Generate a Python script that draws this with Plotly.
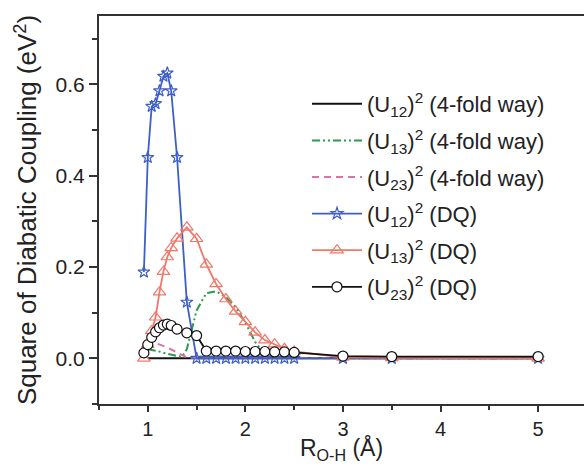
import plotly.graph_objects as go

# ---- data ----
r_4fold_12 = [1.0, 1.5, 2.0, 3.0, 4.0, 5.0]
u12_4fold = [0.0, 0.0, 0.0, 0.0, 0.0, 0.0]

r_4fold_13 = [1.0, 1.1, 1.2, 1.3, 1.35, 1.4, 1.45, 1.5, 1.6, 1.7, 1.8, 1.9, 2.0, 2.1, 2.2, 2.3, 2.5, 3.0, 3.5, 5.0]
u13_4fold = [0.02, 0.016, 0.01, 0.005, 0.003, 0.02, 0.06, 0.105, 0.143, 0.147, 0.134, 0.112, 0.078, 0.036, 0.008, 0.002, 0.001, 0.0, 0.0, 0.0]

r_4fold_23 = [1.0, 1.05, 1.1, 1.2, 1.3, 1.4, 1.5, 2.0, 3.0, 5.0]
u23_4fold = [0.02, 0.03, 0.032, 0.024, 0.013, 0.002, 0.0, 0.0, 0.0, 0.0]

r_dq = [0.96, 1.0, 1.04, 1.08, 1.12, 1.16, 1.2, 1.24, 1.3, 1.4, 1.5, 1.6, 1.7, 1.8,
        1.9, 2.0, 2.1, 2.2, 2.3, 2.4, 2.5, 3.0, 3.5, 5.0]
u12_dq = [0.189, 0.44, 0.552, 0.558, 0.586, 0.618, 0.625, 0.586, 0.44, 0.123, 0.0, 0.0,
          0.0, 0.0, 0.0, 0.0, 0.0, 0.0, 0.0, 0.0, 0.0, 0.0, 0.0, 0.0]
u13_dq = [0.0, 0.03, 0.06, 0.09, 0.145, 0.19, 0.222, 0.242, 0.263, 0.287, 0.262, 0.206,
          0.163, 0.13, 0.103, 0.08, 0.057, 0.04, 0.031, 0.021, 0.015, 0.002, 0.001, 0.0]
u23_dq = [0.012, 0.03, 0.046, 0.058, 0.067, 0.073, 0.075, 0.072, 0.064, 0.056, 0.05, 0.016,
          0.016, 0.016, 0.016, 0.015, 0.015, 0.015, 0.014, 0.014, 0.013, 0.005, 0.004, 0.004]

names = [
    "(U<sub>12</sub>)<sup>2</sup> (4-fold way)",
    "(U<sub>13</sub>)<sup>2</sup> (4-fold way)",
    "(U<sub>23</sub>)<sup>2</sup> (4-fold way)",
    "(U<sub>12</sub>)<sup>2</sup> (DQ)",
    "(U<sub>13</sub>)<sup>2</sup> (DQ)",
    "(U<sub>23</sub>)<sup>2</sup> (DQ)",
]

FONT = "Liberation Sans, Arial, sans-serif"
TXT = "#222222"

fig = go.Figure()
fig.add_trace(go.Scatter(x=r_4fold_12, y=u12_4fold, mode="lines", name=names[0], legendgroup="a",
                         line=dict(color="#111111", width=2)))
fig.add_trace(go.Scatter(x=r_4fold_13, y=u13_4fold, mode="lines", name=names[1], legendgroup="b",
                         line=dict(color="#2f9a4c", width=2, dash="8px,3px,2px,3px,2px,3px")))
fig.add_trace(go.Scatter(x=r_4fold_23, y=u23_4fold, mode="lines", name=names[2], legendgroup="c",
                         line=dict(color="#d776a6", width=2, dash="7px,5px")))
fig.add_trace(go.Scatter(x=r_dq, y=u12_dq, mode="lines+markers", name=names[3], legendgroup="d",
                         line=dict(color="#3e5fc6", width=1.8),
                         marker=dict(symbol="star-open", size=9, color="#3e5fc6", line=dict(width=1.2))))
fig.add_trace(go.Scatter(x=r_dq, y=u13_dq, mode="lines+markers", name=names[4], legendgroup="e",
                         line=dict(color="#f0786a", width=1.8),
                         marker=dict(symbol="triangle-up-open", size=11, color="#f0786a", line=dict(width=1.2))))
fig.add_trace(go.Scatter(x=r_dq, y=u23_dq, mode="lines+markers", name=names[5], legendgroup="f",
                         line=dict(color="#111111", width=1.8),
                         marker=dict(symbol="circle", size=10, color="white", line=dict(color="#111111", width=1.2))))

fig.update_layout(
    width=584, height=464,
    margin=dict(l=99, r=0, t=16, b=60, autoexpand=False),
    paper_bgcolor="white", plot_bgcolor="white",
    font=dict(family=FONT, size=20, color=TXT),
    showlegend=True,
    legend=dict(x=(307 - 99) / 485, y=(404 - 83) / 388, xanchor="left", yanchor="top",
                bgcolor="rgba(0,0,0,0)", borderwidth=0, font=dict(size=22, color=TXT),
                tracegroupgap=5, itemwidth=50),
    xaxis=dict(range=[0.5, 5.47], tick0=0, dtick=1, ticks="outside", ticklen=6, tickwidth=1.5,
               tickcolor="#333", showline=True, linecolor="#333", linewidth=2, mirror=True,
               showgrid=False, zeroline=False, tickfont=dict(size=20), automargin=False,
               minor=dict(dtick=0.5, ticks="outside", ticklen=4, tickwidth=1.5, tickcolor="#333"),
               title=dict(text="R<sub>O-H</sub> (Å)", font=dict(size=23), standoff=11)),
    yaxis=dict(range=[-0.1, 0.75], tick0=0, dtick=0.2, tickformat=".1f", ticks="outside", ticklen=8,
               tickwidth=1.5, tickcolor="#333", showline=True, linecolor="#333", linewidth=2,
               showgrid=False, zeroline=False, tickfont=dict(size=21), automargin=False,
               minor=dict(dtick=0.1, ticks="outside", ticklen=5, tickwidth=1.5, tickcolor="#333"),
               title=dict(text="Square of Diabatic Coupling (eV<sup>2</sup>)", font=dict(size=26), standoff=11)),
)

fig.write_html("out.html", config={"displayModeBar": False},
               post_script="document.body.style.margin='0px';document.body.style.overflow='hidden';")
